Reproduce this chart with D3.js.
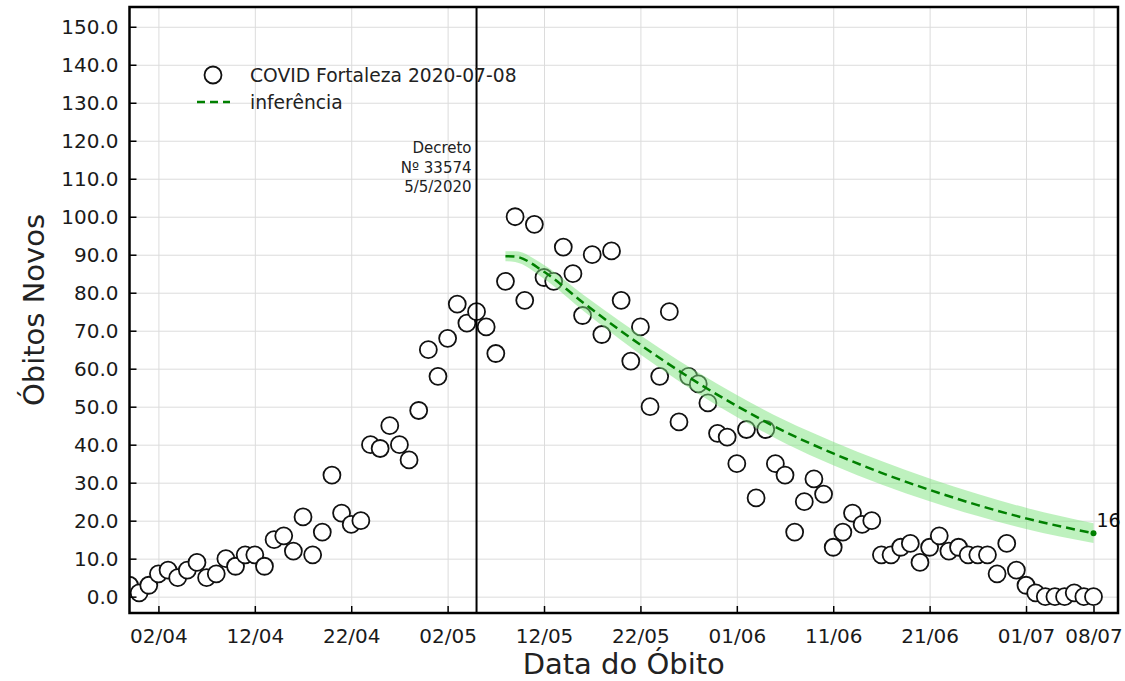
<!DOCTYPE html>
<meta charset="utf-8">
<html>
<head><title>Óbitos Novos - Fortaleza</title></head>
<style>
body { margin: 0; background: #fff; }
svg text { font-family: "DejaVu Sans", sans-serif; fill: #222; }
.grid line { stroke: #dcdcdc; stroke-width: 1; }
.grid path { display: none; }
.axis path { display: none; }
.axis line { stroke: #000; stroke-width: 1.5; }
</style>
<body>
<script src="https://d3js.org/d3.v7.min.js"></script>

<svg id="chart" width="1125" height="681"></svg>
<script>

// daily deaths, one value per day starting at firstDay
var firstDay = "2020-03-30";
var obitos = [3, 1,
  3, 6, 7, 5, 7, 9, 5, 6, 10, 8, 11, 11, 8, 15, 16, 12, 21, 11, 17, 32, 22, 19, 20, 40, 39, 45, 40, 36, 49, 65,
  58, 68, 77, 72, 75, 71, 64, 83, 100, 78, 98, 84, 83, 92, 85, 74, 90, 69, 91, 78, 62, 71, 50, 58, 75, 46, 58, 56, 51, 43, 42,
  35, 44, 26, 44, 35, 32, 17, 25, 31, 27, 13, 17, 22, 19, 20, 11, 11, 13, 14, 9, 13, 16, 12, 13, 11, 11, 11, 6, 14, 7,
  3, 1, 0, 0, 0, 1, 0, 0];

// model inference (line + band)
var infDates = ["2020-05-08", "2020-05-09", "2020-05-12", "2020-05-16", "2020-05-20", "2020-05-24", "2020-05-28",
  "2020-06-01", "2020-06-06", "2020-06-11", "2020-06-16", "2020-06-21", "2020-06-26", "2020-07-01", "2020-07-08"];
var infValues = [89.6, 89.5, 85.5, 77.5, 69.9, 62.8, 56.2, 50.2, 43.4, 37.7, 32.6, 28.1, 24.1, 20.6, 16.7];
var infLower = [88.3, 88.1, 83.7, 75.4, 67.5, 60.2, 53.4, 47.3, 40.4, 34.6, 29.5, 25.1, 21.2, 17.8, 14.1];
var infUpper = [90.9, 90.9, 87.3, 79.6, 72.3, 65.4, 59.0, 53.1, 46.4, 40.8, 35.7, 31.1, 27.0, 23.4, 19.3];

var decretoDate = "2020-05-05";
var decretoLines = ["Decreto", "Nº 33574", "5/5/2020"];

var xTickDates = ["2020-04-02", "2020-04-12", "2020-04-22", "2020-05-02", "2020-05-12", "2020-05-22",
  "2020-06-01", "2020-06-11", "2020-06-21", "2020-07-01", "2020-07-08"];
var yTicks = [0, 10, 20, 30, 40, 50, 60, 70, 80, 90, 100, 110, 120, 130, 140, 150];

var parseDate = d3.utcParse("%Y-%m-%d");

var svg = d3.select("#chart"),
  margin = {top: 7, right: 7, bottom: 68, left: 129.5},
  width = +svg.attr("width") - margin.left - margin.right,
  height = +svg.attr("height") - margin.top - margin.bottom;

var g = svg.append("g").attr("transform", "translate(" + margin.left + "," + margin.top + ")");

var points = obitos.map(function(v, i) {
  return {date: d3.utcDay.offset(parseDate(firstDay), i), value: v};
});
var inference = infDates.map(function(d, i) {
  return {date: parseDate(d), value: infValues[i], lo: infLower[i], hi: infUpper[i]};
});

var x = d3.scaleUtc()
  .domain([parseDate("2020-03-30"), new Date(Date.UTC(2020, 6, 10, 13))])
  .range([0, width]);
var y = d3.scaleLinear()
  .domain([-4.3, 155.2])
  .range([height, 0]);

var xTicks = xTickDates.map(parseDate);

// grid
g.append("g").attr("class", "grid")
  .attr("transform", "translate(0," + height + ")")
  .call(d3.axisBottom(x).tickValues(xTicks).tickSize(-height).tickFormat(""));
g.append("g").attr("class", "grid")
  .call(d3.axisLeft(y).tickValues(yTicks).tickSize(-width).tickFormat(""));

g.append("clipPath").attr("id", "plotclip")
  .append("rect").attr("width", width).attr("height", height);

var plot = g.append("g").attr("clip-path", "url(#plotclip)");

// data points
plot.selectAll("circle.obito")
  .data(points)
  .enter().append("circle")
  .attr("class", "obito")
  .attr("cx", function(d) { return x(d.date); })
  .attr("cy", function(d) { return y(d.value); })
  .attr("r", 8.5)
  .style("fill", "#fff")
  .style("stroke", "#111")
  .style("stroke-width", 1.8);

// inference band and line
plot.append("path")
  .datum(inference)
  .attr("d", d3.area()
    .curve(d3.curveMonotoneX)
    .x(function(d) { return x(d.date); })
    .y0(function(d) { return y(d.lo); })
    .y1(function(d) { return y(d.hi); }))
  .style("fill", "#7de37d")
  .style("fill-opacity", 0.5);

plot.append("path")
  .datum(inference)
  .attr("d", d3.line()
    .curve(d3.curveMonotoneX)
    .x(function(d) { return x(d.date); })
    .y(function(d) { return y(d.value); }))
  .style("fill", "none")
  .style("stroke", "#008000")
  .style("stroke-width", 2.5)
  .style("stroke-dasharray", "9,5");

var last = inference[inference.length - 1];
plot.append("circle")
  .attr("cx", x(last.date))
  .attr("cy", y(last.value))
  .attr("r", 3)
  .style("fill", "#008000");
g.append("text")
  .attr("x", x(last.date) + 3)
  .attr("y", y(last.value) - 6)
  .style("font-size", "19px")
  .style("fill", "#111")
  .text(Math.floor(last.value));

// decree line
var xd = x(parseDate(decretoDate));
g.append("line")
  .attr("x1", xd).attr("x2", xd)
  .attr("y1", 0).attr("y2", height)
  .style("stroke", "#000")
  .style("stroke-width", 2);
g.append("g").selectAll("text")
  .data(decretoLines)
  .enter().append("text")
  .attr("x", xd - 5)
  .attr("y", function(d, i) { return 146 + i * 19.5; })
  .attr("text-anchor", "end")
  .style("font-size", "15px")
  .text(function(d) { return d; });

// axes (ticks pointing inwards)
g.append("g").attr("class", "axis")
  .attr("transform", "translate(0," + height + ")")
  .call(d3.axisBottom(x).tickValues(xTicks).tickSize(-7).tickPadding(16)
    .tickFormat(d3.utcFormat("%d/%m")));
g.append("g").attr("class", "axis")
  .call(d3.axisLeft(y).tickValues(yTicks).tickSize(-7).tickPadding(11)
    .tickFormat(d3.format(".1f")));
g.selectAll(".axis text").style("font-size", "20px").style("font-family", "DejaVu Sans, sans-serif").style("fill", "#1a1a1a");

g.append("rect")
  .attr("width", width).attr("height", height)
  .style("fill", "none")
  .style("stroke", "#000")
  .style("stroke-width", 2.5);

// axis labels
svg.append("text")
  .attr("x", margin.left + width / 2)
  .attr("y", 674)
  .attr("text-anchor", "middle")
  .style("font-size", "29px")
  .text("Data do Óbito");
svg.append("text")
  .attr("transform", "translate(44," + (margin.top + height / 2) + ") rotate(-90)")
  .attr("text-anchor", "middle")
  .style("font-size", "29px")
  .text("Óbitos Novos");

// legend
var legend = svg.append("g").attr("transform", "translate(213,75)");
legend.append("circle")
  .attr("r", 8.5)
  .style("fill", "#fff")
  .style("stroke", "#111")
  .style("stroke-width", 1.8);
legend.append("text")
  .attr("x", 37).attr("dy", "0.35em")
  .style("font-size", "18.7px")
  .text("COVID Fortaleza 2020-07-08");
legend.append("line")
  .attr("x1", -16).attr("x2", 17)
  .attr("y1", 27).attr("y2", 27)
  .style("stroke", "#008000")
  .style("stroke-width", 2.5)
  .style("stroke-dasharray", "8,5");
legend.append("text")
  .attr("x", 37).attr("y", 27).attr("dy", "0.35em")
  .style("font-size", "18.7px")
  .text("inferência");

</script>
</body>
</html>
